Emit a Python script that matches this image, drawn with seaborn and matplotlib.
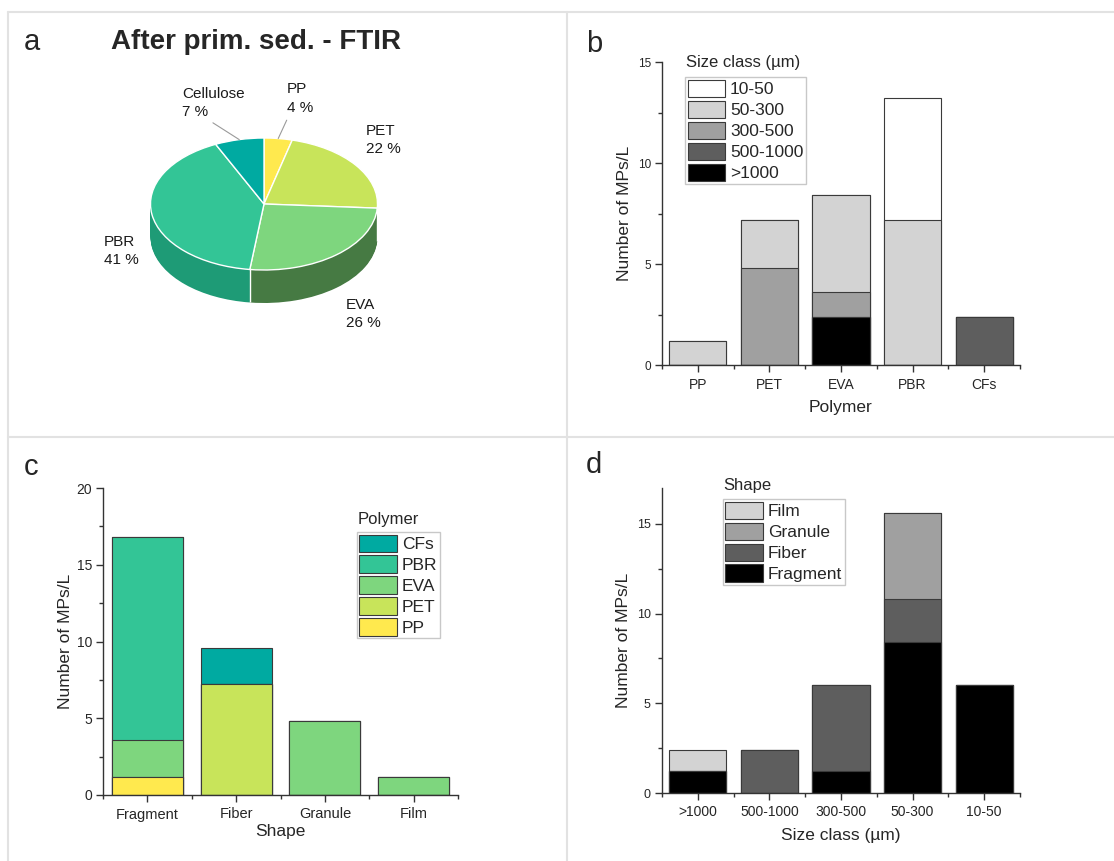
import numpy as np
import seaborn as sns
import matplotlib.pyplot as plt
from matplotlib.patches import Patch
from matplotlib.lines import Line2D
from matplotlib.ticker import AutoMinorLocator, FixedLocator

# ---- panel a: pie (percent) ----
pie_labels = ['PP', 'PET', 'EVA', 'PBR', 'Cellulose']
pie_pct = [4, 22, 26, 41, 7]

# ---- panel b: polymer x size class ----
polymers = ['PP', 'PET', 'EVA', 'PBR', 'CFs']
size_gt1000 = [0, 0, 2.4, 0, 0]
size_500_1000 = [0, 0, 0, 0, 2.4]
size_300_500 = [0, 4.8, 1.2, 0, 0]
size_50_300 = [1.2, 2.4, 4.8, 7.2, 0]
size_10_50 = [0, 0, 0, 6.0, 0]

# ---- panel c: shape x polymer ----
shapes = ['Fragment', 'Fiber', 'Granule', 'Film']
c_pp = [1.2, 0, 0, 0]
c_pet = [0, 7.2, 0, 0]
c_eva = [2.4, 0, 4.8, 1.2]
c_pbr = [13.2, 0, 0, 0]
c_cfs = [0, 2.4, 0, 0]

# ---- panel d: size class x shape ----
size_order = ['>1000', '500-1000', '300-500', '50-300', '10-50']
d_fragment = [1.2, 0, 1.2, 8.4, 6.0]
d_fiber = [0, 2.4, 4.8, 2.4, 0]
d_granule = [0, 0, 0, 4.8, 0]
d_film = [1.2, 0, 0, 0, 0]

POLY_COL = {'PP': '#FFE94E', 'PET': '#C8E45A', 'EVA': '#7ED67E',
            'PBR': '#33C596', 'CFs': '#00AAA1', 'Cellulose': '#00AAA1'}
SIDE_COL = {'PP': '#C9B530', 'PET': '#8FA838', 'EVA': '#467A43',
            'PBR': '#1E9B76', 'Cellulose': '#00807A'}
GREYS = {'white': '#FFFFFF', 'light': '#D3D3D3', 'mid': '#A0A0A0',
         'dark': '#5E5E5E', 'black': '#000000'}
EDGE = '#3A3A3A'

sns.set_style('ticks')
plt.rcParams['font.family'] = ['Liberation Sans', 'DejaVu Sans']
plt.rcParams['axes.edgecolor'] = '#333333'

fig = plt.figure(figsize=(11.14, 8.61), dpi=100)


def stacked(ax, cats, layers, colors):
    # layers listed bottom -> top; draw cumulative heights from the top down
    cum = np.cumsum(np.array(layers, dtype=float), axis=0)
    for i in range(len(layers) - 1, -1, -1):
        sns.barplot(x=cats, y=cum[i], order=cats, color=colors[i], saturation=1,
                    width=0.8, edgecolor=EDGE, linewidth=0.8, errorbar=None, ax=ax)


def style_axes(ax, ncat, ylim, ytick_size, xtick_size):
    ax.set_xlim(-0.5, ncat - 0.5)
    ax.set_ylim(*ylim)
    ax.yaxis.set_minor_locator(AutoMinorLocator(2))
    ax.xaxis.set_minor_locator(FixedLocator(np.arange(-0.5, ncat, 1.0)))
    ax.tick_params(which='major', direction='out', length=5, width=1, color='#333333')
    ax.tick_params(which='minor', direction='out', length=3, width=1, color='#333333')
    ax.tick_params(axis='y', labelsize=ytick_size, pad=3)
    ax.tick_params(axis='x', labelsize=xtick_size, pad=4)
    sns.despine(ax=ax)
    for s in ('left', 'bottom'):
        ax.spines[s].set_linewidth(1)


def add_legend(ax, labels, colors, title, loc_xy, title_xy, fsize):
    handles = [Patch(facecolor=c, edgecolor=EDGE, linewidth=0.8, label=l)
               for l, c in zip(labels, colors)]
    leg = ax.legend(handles=handles, loc='upper left', bbox_to_anchor=loc_xy,
                    fontsize=fsize, frameon=True, fancybox=False, framealpha=1,
                    edgecolor='#C8C8C8', handlelength=2.15, handleheight=1.15,
                    handletextpad=0.3, labelspacing=0.2, borderpad=0.15,
                    borderaxespad=0)
    leg.get_frame().set_linewidth(1)
    ax.text(title_xy[0], title_xy[1], title, transform=ax.transAxes,
            ha='left', va='center', fontsize=12)


# ---------------- panel a ----------------
ax_a = fig.add_axes([8 / 1114, 1 - 437 / 861, 559 / 1114, 425 / 861])
depth = 0.5
nlay = 40
top_cols = [POLY_COL[l] for l in pie_labels]
side_cols = [SIDE_COL[l] for l in pie_labels]
for k in range(nlay, 0, -1):
    ax_a.pie(pie_pct, colors=side_cols, startangle=90, counterclock=False,
             center=(0, -depth * k / nlay), radius=1,
             wedgeprops=dict(linewidth=0, antialiased=True))
ax_a.pie(pie_pct, colors=top_cols, startangle=90, counterclock=False,
         center=(0, 0), radius=1, wedgeprops=dict(edgecolor='white', linewidth=1))

# slice geometry from the data
cum_pct = np.cumsum([0] + pie_pct)
bounds = 90 - 360 * cum_pct / 100.0
mids = 90 - 360 * (cum_pct[:-1] + np.array(pie_pct) / 2) / 100.0
for b in bounds[1:-1]:
    th = np.deg2rad(b)
    if np.sin(th) < 0:
        ax_a.plot([np.cos(th)] * 2, [np.sin(th), np.sin(th) - depth],
                  color='white', lw=1, solid_capstyle='butt')

# label layout (data units of the pie axes)
label_pos = {'PP': (0.2, 1.6), 'PET': (0.9, 0.97), 'EVA': (0.72, -1.67),
             'PBR': (-1.41, -0.71), 'Cellulose': (-0.72, 1.53)}
leader_end = {'PP': (0.2, 1.27), 'Cellulose': (-0.45, 1.23)}
for lab, pct, m in zip(pie_labels, pie_pct, mids):
    x, y = label_pos[lab]
    ax_a.text(x, y, f'{lab}\n{pct} %', ha='left', va='center', fontsize=11,
              linespacing=1.4, color='#1a1a1a')
    if lab in leader_end:
        th = np.deg2rad(m)
        ex, ey = leader_end[lab]
        ax_a.plot([np.cos(th), ex], [np.sin(th), ey], color='#9a9a9a', lw=0.8)

ax_a.set_aspect('auto')
ax_a.set_xlim(-(264 - 8) / 113.5, (567 - 264) / 113.5)
ax_a.set_ylim(-(437 - 204) / 66.0, (204 - 12) / 66.0)
ax_a.axis('off')

fig.text(256 / 1114, 1 - 42 / 861, 'After prim. sed. - FTIR', ha='center',
         va='center', fontsize=20, fontweight='bold')

# ---------------- panel b ----------------
ax_b = fig.add_axes([662 / 1114, 1 - 365 / 861, 358 / 1114, 303 / 861])
stacked(ax_b, polymers,
        [size_gt1000, size_500_1000, size_300_500, size_50_300, size_10_50],
        [GREYS['black'], GREYS['dark'], GREYS['mid'], GREYS['light'], GREYS['white']])
style_axes(ax_b, len(polymers), (0, 15), 8.5, 10)
ax_b.set_yticks([0, 5, 10, 15])
ax_b.set_xlabel('Polymer', fontsize=12.5, labelpad=6)
ax_b.set_ylabel('Number of MPs/L', fontsize=12.5, labelpad=4)
size_classes = ['10-50', '50-300', '300-500', '500-1000', '>1000']
add_legend(ax_b, size_classes,
           [GREYS['white'], GREYS['light'], GREYS['mid'], GREYS['dark'], GREYS['black']],
           'Size class (µm)', (0.064, 0.95), (0.067, 1.0), 12.5)

# ---------------- panel c ----------------
ax_c = fig.add_axes([103 / 1114, 1 - 795 / 861, 355 / 1114, 307 / 861])
stacked(ax_c, shapes, [c_pp, c_pet, c_eva, c_pbr, c_cfs],
        [POLY_COL['PP'], POLY_COL['PET'], POLY_COL['EVA'], POLY_COL['PBR'], POLY_COL['CFs']])
style_axes(ax_c, len(shapes), (0, 20), 10, 10.5)
ax_c.set_yticks([0, 5, 10, 15, 20])
ax_c.set_xlabel('Shape', fontsize=12.5, labelpad=2)
ax_c.set_ylabel('Number of MPs/L', fontsize=12.5, labelpad=2)
poly_leg = ['CFs', 'PBR', 'EVA', 'PET', 'PP']
add_legend(ax_c, poly_leg, [POLY_COL[p] for p in poly_leg], 'Polymer',
           (0.715, 0.857), (0.718, 0.899), 12.5)

# ---------------- panel d ----------------
ax_d = fig.add_axes([662 / 1114, 1 - 793 / 861, 358 / 1114, 305 / 861])
stacked(ax_d, size_order, [d_fragment, d_fiber, d_granule, d_film],
        [GREYS['black'], GREYS['dark'], GREYS['mid'], GREYS['light']])
style_axes(ax_d, len(size_order), (0, 17), 9, 10)
ax_d.set_yticks([0, 5, 10, 15])
ax_d.set_xlabel('Size class (µm)', fontsize=12.5, labelpad=6)
ax_d.set_ylabel('Number of MPs/L', fontsize=12.5, labelpad=4)
add_legend(ax_d, ['Film', 'Granule', 'Fiber', 'Fragment'],
           [GREYS['light'], GREYS['mid'], GREYS['dark'], GREYS['black']],
           'Shape', (0.17, 0.964), (0.172, 1.007), 12.5)

# panel letters
for lab, (px, py) in {'a': (24, 50), 'b': (586, 52), 'c': (24, 475), 'd': (586, 473)}.items():
    fig.text(px / 1114, 1 - py / 861, lab, ha='left', va='baseline', fontsize=21)

# light grid separating the panels
for (x0, y0, x1, y1) in [(8, 12, 8, 861), (8, 12, 1114, 12), (567, 12, 567, 861), (8, 437, 1114, 437)]:
    fig.add_artist(Line2D([x0 / 1114, x1 / 1114], [1 - y0 / 861, 1 - y1 / 861],
                          transform=fig.transFigure, color='#E2E2E2', lw=1.5))

fig.savefig('out.png', dpi=100)
